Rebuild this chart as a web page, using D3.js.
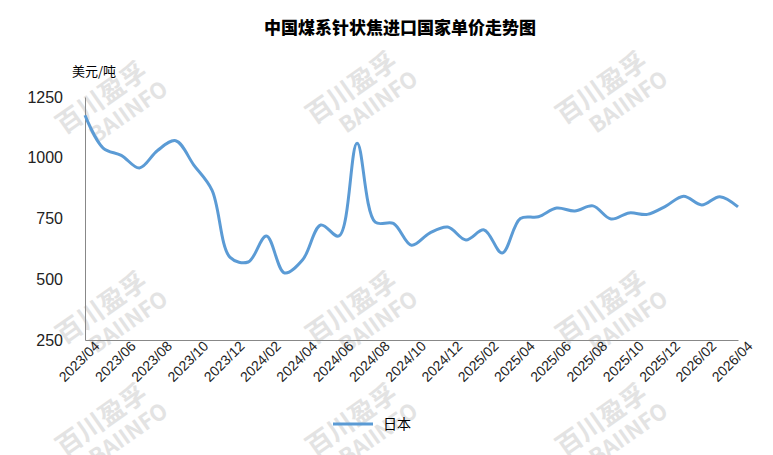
<!DOCTYPE html><html><head><meta charset="utf-8"><script src="https://cdn.jsdelivr.net/npm/d3@7"></script>
<style>body{margin:0;background:#fff}</style></head><body><svg id="c" width="773" height="455"></svg><script>
const months=[];for(let i=0;i<37;i++){const d=new Date(2023,3+i,1);months.push(d.getFullYear()+"/"+String(d.getMonth()+1).padStart(2,"0"));}
const values=[1175,1040,1010,958,1030,1070,970,867,590,571,678,526,580,723,678,1060,735,730,640,690,715,662,703,608,750,757,793,781,802,748,773,767,800,842,806,840,798];
const yTicks=[250,500,750,1000,1250];
const svg=d3.select("#c");
const x=d3.scalePoint().domain(months).range([85,738]);
const y=d3.scaleLinear().domain([250,1250]).range([340,97]);
const wm=svg.append("g").attr("fill","#e3e3e3").attr("font-family","Noto Sans CJK SC").attr("font-weight","bold");
[[110,110],[360,100],[610,100],[110,320],[360,320],[610,320],[110,432],[360,432],[610,432]].forEach(([cx,cy])=>{
 const g=wm.append("g").attr("transform",`translate(${cx},${cy}) rotate(-35)`);
 g.append("text").attr("text-anchor","middle").attr("font-size",26).attr("y",-6).text("百川盈孚");
 g.append("text").attr("text-anchor","middle").attr("font-size",22).attr("x",14).attr("y",20).text("BAIINFO");});
svg.append("text").attr("x",400).attr("y",34).attr("text-anchor","middle").attr("font-family","Noto Sans CJK SC").attr("font-weight","900").attr("font-size",17).text("中国煤系针状焦进口国家单价走势图");
svg.append("text").attr("x",72).attr("y",76).attr("font-family","Noto Sans CJK SC").attr("font-size",13).text("美元/吨");
const ya=svg.append("g").attr("transform","translate(85,0)").call(d3.axisLeft(y).tickValues(yTicks).tickFormat(d3.format("d")).tickSize(0).tickPadding(22));
ya.select(".domain").attr("stroke","#888");
ya.selectAll("text").attr("font-family","Liberation Sans").attr("font-size",16).attr("fill","#222");
const xa=svg.append("g").attr("transform","translate(0,340)").call(d3.axisBottom(x).tickValues(months.filter((m,i)=>i%2==0)).tickSize(0));
xa.select(".domain").attr("stroke","#888");
xa.selectAll("text").attr("font-family","Liberation Sans").attr("font-size",14).attr("fill","#222").attr("text-anchor","end").attr("dx","0.4em").attr("dy","0.9em").attr("transform","rotate(-45)");
svg.append("path").datum(values).attr("fill","none").attr("stroke","#5b9bd5").attr("stroke-width",3)
 .attr("d",d3.line().x((d,i)=>x(months[i])).y(d=>y(d)).curve(d3.curveCatmullRom.alpha(0.5)));
svg.append("line").attr("x1",333).attr("x2",373).attr("y1",424).attr("y2",424).attr("stroke","#5b9bd5").attr("stroke-width",3);
svg.append("text").attr("x",383).attr("y",429).attr("font-family","Noto Sans CJK SC").attr("font-size",14).text("日本");
</script></body></html>
